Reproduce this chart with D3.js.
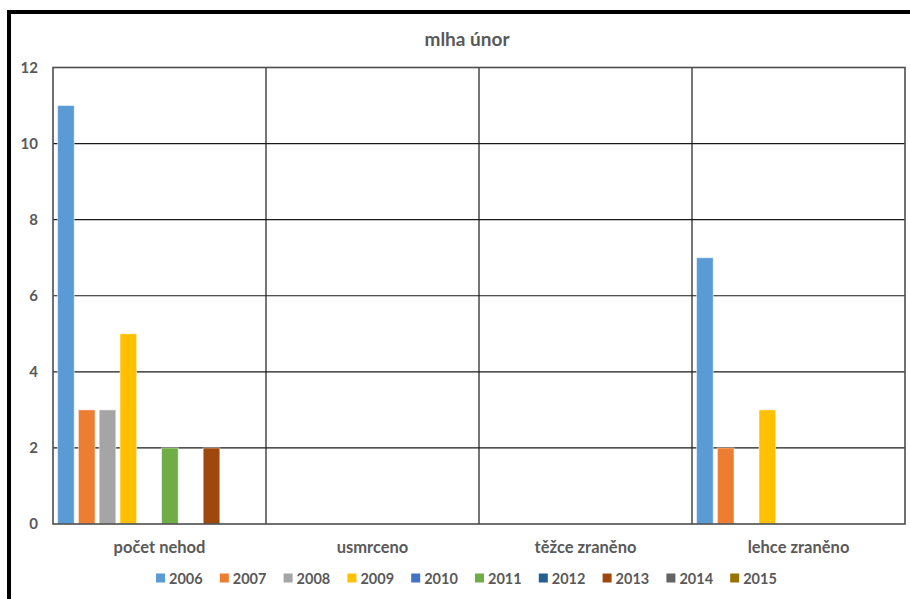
<!DOCTYPE html>
<html>
<head>
<meta charset="utf-8">
<script src="https://cdn.jsdelivr.net/npm/d3@7"></script>
<style>
  body { margin: 0; background: #fff; }
  text { font-family: Lato, "Liberation Sans", sans-serif; fill: #595959; font-weight: bold; }
</style>
</head>
<body>
<script>
"use strict";
const categories = ["počet nehod", "usmrceno", "těžce zraněno", "lehce zraněno"]
const years = ["2006", "2007", "2008", "2009", "2010", "2011", "2012", "2013", "2014", "2015"]
// values per year, in order of categories
const v2006 = [11, 0, 0, 7]
const v2007 = [3, 0, 0, 2]
const v2008 = [3, 0, 0, 0]
const v2009 = [5, 0, 0, 3]
const v2010 = [0, 0, 0, 0]
const v2011 = [2, 0, 0, 0]
const v2012 = [0, 0, 0, 0]
const v2013 = [2, 0, 0, 0]
const v2014 = [0, 0, 0, 0]
const v2015 = [0, 0, 0, 0]
const yTicks = [0, 2, 4, 6, 8, 10, 12]
const title = "mlha únor"

;(function(){
    const series = [v2006, v2007, v2008, v2009, v2010, v2011, v2012, v2013, v2014, v2015]
    const colors = ["#5B9BD5", "#ED7D31", "#A5A5A5", "#FFC000", "#4472C4", "#70AD47", "#255E91", "#9E480E", "#636363", "#997300"]

    const measurements = {
        width: 910,
        height: 599,
        left: 53,
        right: 905,
        top: 67.5,
        bottom: 524
    }

    let svg = d3.select("body").append("svg")
        .attr("width", measurements.width)
        .attr("height", measurements.height)

    // chart frame (cut off on right and bottom, like the screenshot)
    svg.append("rect")
        .attr("x", 9).attr("y", 12)
        .attr("width", 1000).attr("height", 1000)
        .attr("fill", "none")
        .attr("stroke", "#000")
        .attr("stroke-width", 4)

    svg.append("text")
        .attr("x", 467).attr("y", 46)
        .attr("text-anchor", "middle")
        .style("font-size", "19px")
        .text(title)

    let scaleX = d3.scaleBand()
        .domain(categories)
        .range([measurements.left, measurements.right])

    let scaleYear = d3.scaleBand()
        .domain(years)
        .range([0, scaleX.bandwidth()])
        .paddingInner(0.2)
        .paddingOuter(0.22)

    let scaleY = d3.scaleLinear()
        .domain([0, 12])
        .range([measurements.bottom, measurements.top])

    // horizontal gridlines
    svg.append("g")
        .selectAll("line")
        .data(yTicks.slice(1, -1))
        .enter().append("line")
        .attr("x1", measurements.left).attr("x2", measurements.right)
        .attr("y1", d => scaleY(d)).attr("y2", d => scaleY(d))
        .attr("stroke", "#1a1a1a")
        .attr("stroke-width", 1.2)

    // category separators
    svg.append("g")
        .selectAll("line")
        .data(categories.slice(1))
        .enter().append("line")
        .attr("x1", d => scaleX(d)).attr("x2", d => scaleX(d))
        .attr("y1", measurements.top).attr("y2", measurements.bottom)
        .attr("stroke", "#1a1a1a")
        .attr("stroke-width", 1.2)

    // bars
    let groups = svg.append("g")
        .selectAll("g")
        .data(series)
        .enter().append("g")
        .attr("fill", (d, i) => colors[i])

    groups.selectAll("rect")
        .data((d, i) => d.map((v, j) => ({ year: years[i], cat: categories[j], value: v })))
        .enter().append("rect")
        .filter(d => d.value > 0)
        .attr("x", d => scaleX(d.cat) + scaleYear(d.year))
        .attr("width", scaleYear.bandwidth())
        .attr("y", d => scaleY(d.value))
        .attr("height", d => scaleY(0) - scaleY(d.value))
        .attr("stroke", "rgba(255,255,255,0.5)")
        .attr("stroke-width", 1)

    // plot area border
    svg.append("rect")
        .attr("x", measurements.left).attr("y", measurements.top)
        .attr("width", measurements.right - measurements.left)
        .attr("height", measurements.bottom - measurements.top)
        .attr("fill", "none")
        .attr("stroke", "#4d4d4d")
        .attr("stroke-width", 1.6)

    // y axis labels
    let yAxis = d3.axisLeft(scaleY)
        .tickValues(yTicks)
        .tickSize(0)
        .tickPadding(15)
    let yg = svg.append("g")
        .attr("transform", `translate(${measurements.left}, 0)`)
        .call(yAxis)
    yg.select(".domain").remove()
    yg.selectAll("text")
        .attr("font-family", null)
        .style("font-size", "15px")
        .attr("fill", "#595959")

    // x axis labels
    let xAxis = d3.axisBottom(scaleX)
        .tickSize(0)
        .tickPadding(17)
    let xg = svg.append("g")
        .attr("transform", `translate(0, ${measurements.bottom})`)
        .call(xAxis)
    xg.select(".domain").remove()
    xg.selectAll("text")
        .attr("font-family", null)
        .style("font-size", "16.5px")
        .attr("fill", "#595959")

    // legend
    let legend = svg.append("g")
        .selectAll("g")
        .data(years)
        .enter().append("g")
        .attr("transform", (d, i) => `translate(${156 + i * 63.8}, 578)`)
    legend.append("rect")
        .attr("x", 0).attr("y", -4.5)
        .attr("width", 9).attr("height", 9)
        .attr("fill", (d, i) => colors[i])
    legend.append("text")
        .attr("x", 13).attr("y", 5.5)
        .style("font-size", "14.5px")
        .text(d => d)
})()
</script>
</body>
</html>
